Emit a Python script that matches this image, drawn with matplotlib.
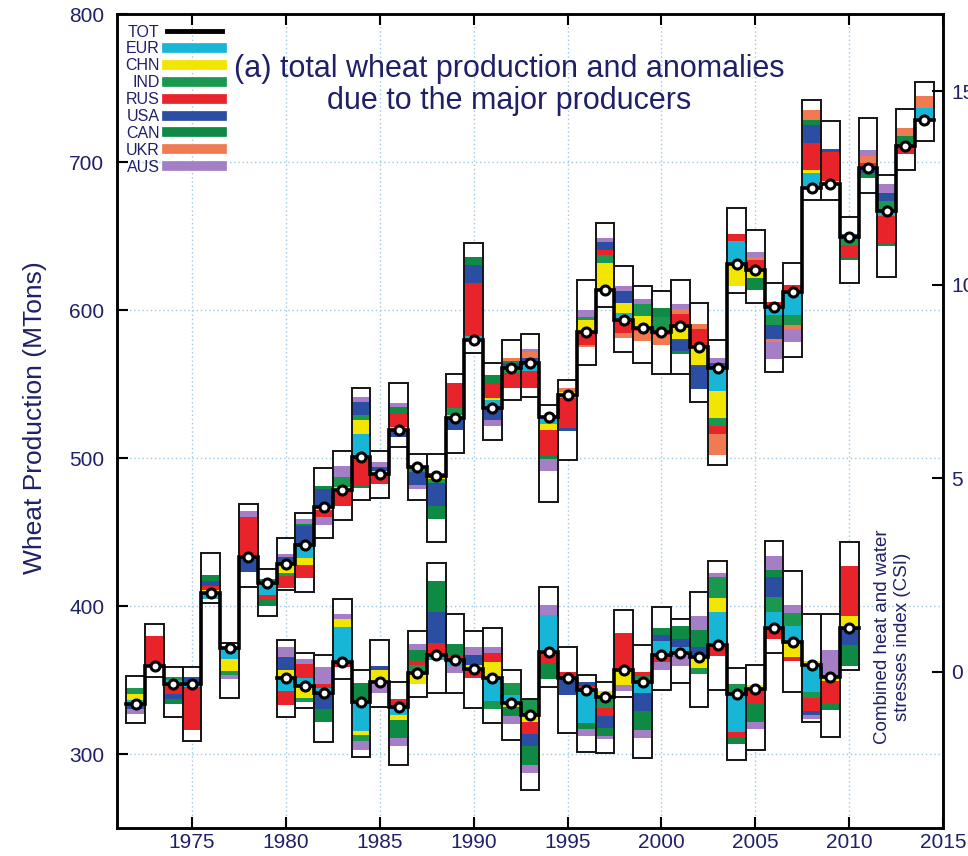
import numpy as np
import matplotlib.pyplot as plt
from matplotlib.lines import Line2D

plt.rcParams['font.family'] = ['Liberation Sans', 'DejaVu Sans']

navy = '#1f2066'

countries = ['EUR', 'CHN', 'IND', 'RUS', 'USA', 'CAN', 'UKR', 'AUS']
colors = ['#17b5d6', '#f2e600', '#1a9850', '#e8232a', '#2b4ea2', '#0e8a45', '#f07b52', '#a47fc6']

# world wheat production (MTons) and country anomalies, 1972-2014
prod_years = np.arange(1972, 2015)
prod_total = [333.8, 359.5, 347.3, 347.3, 408.8, 371.6, 433.1, 415.5, 428.4, 441.2,
              466.9, 478.4, 500.7, 489.2, 518.9, 494.0, 487.9, 527.0, 579.8, 533.8,
              560.8, 564.2, 527.7, 542.6, 585.2, 613.5, 593.3, 587.9, 585.2, 589.3,
              575.0, 560.8, 631.0, 627.0, 602.0, 612.2, 682.5, 685.2, 649.4, 696.0,
              666.9, 710.8, 728.4]
prod_hi = [353, 388, 359, 359, 436, 375, 469, 425, 446, 463,
           493, 505, 547, 505, 551, 503, 503, 557, 645, 564,
           580, 584, 536, 553, 620, 659, 630, 616, 613, 620,
           605, 580, 669, 654, 618, 632, 742, 728, 663, 730,
           691, 736, 754]
prod_lo = [321, 352, 325, 309, 402, 338, 413, 393, 411, 409.5,
           446, 458, 471.6, 473, 507.5, 471.6, 443.3, 503.4, 571, 512,
           539.2, 541.3, 470.3, 498.7, 562.9, 602, 571.7, 564.2, 557, 557,
           538, 495.3, 611.5, 604.8, 558, 568.3, 674.4, 674.4, 618.3, 679,
           622.3, 694.6, 714]
prod_eur = [3, 1, 3, -2, -4, -7.4, 0, -8, 0, -9,
            0, 0, 15.8, 0, 0, 0, 0, 0, 2.3, 5.5,
            0, -5.6, -4.5, -2, 0, 0, 4.5, 0, 0, 0,
            0, -15.5, 15.8, 0, -5.6, -15.8, 10, 0, 0, 0,
            -3.4, 0, 8]
prod_chn = [4, 0, 0, 0, 2, -8, 1.4, 0, -6, -4.5,
            -2, 2, 9, 2.3, 2.3, 0, -2.3, 2.3, 0, 1,
            0, 0, -4.5, 2, 8, 18, 6.8, 8, 0, -9,
            -12.4, -18, -14.6, -5.6, 0, 0, 2.3, 2.3, 0, 0,
            0, 0, 0]
prod_ind = [4, 0, 2, 0, 0, -2.7, 0, 2.7, -2, 0,
            0, 7, 3.4, 0, 0, -3.4, -2.3, 4.5, 0, 0,
            -3.4, 0, 0, 0, 2.3, 5.6, 0, 8, 10, 0,
            0, -5.4, 0, 0, -6.8, -6.8, 0, 0, -5.6, 0,
            6.8, 0, 0]
prod_rus = [-1.5, 19, -7, -29, 2.7, 0, 25.7, -2.7, -8, -9,
            -4.5, -11, -19, -6.8, 9, 0, 2, 17, 36, 10,
            -10, -11.3, -17, -20, -9, 3.4, -9, -2, -2, 8,
            12.4, -6, 4.5, 6.8, 3.4, 4.5, 18, 19, -8, 3.4,
            -18, -5.6, 0]
prod_usa = [-2, 0, -3, 5, 3.4, 0, -10, 0, 5, 13,
            12, 0, 9, 2.3, -4.5, -9, -15.8, -8, 12.4, -8,
            3.5, 3.4, 0, -2.5, 0, 5.6, 8, 0, 0, -8,
            -15.8, 3.4, 0, 0, -9, 0, 12.4, 2, 2, -3.4,
            5.6, 0, 0]
prod_can = [0, 0, -3.5, 0, 4, 0, 0, -4.7, 0, 1.5,
            2, 0, -2.3, 0, 4.5, 0, -9, 0, 5.6, 5.5,
            1, 0, -2.3, 0, 0, 0, 0, 0, 6, -2.3,
            0, 0, 0, -8, 0, 0, 3.4, 0, -2.3, -3.4,
            -2.3, 6.8, 0]
prod_ukr = [0, 0, 0, 0, 0, 0, 0, 0, 0, 0,
            0, 0, 0, 0, 0, 0, 0, 0, 0, 0,
            2.3, 4, 0, 2.5, -1.5, 0, -3.4, -7, -7, 3.4,
            3.4, -14, 0, 2.3, -2.3, -2.3, 6.8, 0, 0, 4.5,
            0, 5.6, 8]
prod_aus = [-3.5, 0, 0, 0, 0, -2.7, 4, 0, 2, 3,
            -5.5, 7, 3.4, 3.4, 2.3, -2.3, 0, 0, 0, -4.5,
            0, 2, -8, 0, 4.5, 2.3, 3.4, 3.4, 0, 3.4,
            0, 3.4, 0, 3.4, -11.3, -9, 0, 0, 0, 4.5,
            5.6, 0, 0]

# combined heat and water stress index (CSI) and country contributions, 1980-2010
csi_years = np.arange(1980, 2011)
csi_total = [-0.16, -0.36, -0.54, 0.26, -0.78, -0.26, -0.91, -0.03, 0.44, 0.31,
             0.08, -0.16, -0.80, -1.11, 0.52, -0.16, -0.47, -0.65, 0.05, -0.26,
             0.44, 0.49, 0.39, 0.70, -0.57, -0.44, 1.14, 0.78, 0.18, -0.13,
             1.14]
csi_hi = [0.83, 0.49, 0.44, 1.87, 0.05, 0.83, -0.26, 1.04, 2.82, 1.48,
          1.04, 1.14, 0.05, -0.70, 2.18, 0.65, -0.08, -0.26, 1.6, 0.7,
          1.66, 1.35, 2.07, 2.85, 0.1, 0.18, 3.37, 2.59, 1.48, 1.48,
          3.34]
csi_lo = [-1.17, -0.93, -1.81, -0.2, -2.2, -0.9, -2.4, -0.65, -0.54, -0.54,
          -0.93, -1.32, -1.76, -3.06, -0.39, -1.58, -2.07, -2.1, -0.65, -2.23,
          -0.47, -0.3, -0.9, -0.47, -2.28, -2.02, 0.49, -0.52, -1.3, -1.7,
          0.05]
csi_eur = [-0.34, 0.2, 0.12, 0.9, -0.75, 0, -0.2, 0, -0.15, -0.15,
           0, -0.6, 0.2, 0, 0.95, 0, -0.85, 0, 0, -0.3,
           0.35, 0.15, 0, 0.85, -1.0, 0, 0.4, 0.4, -0.7, 0,
           0]
csi_chn = [0.21, -0.32, 0, 0.2, -0.1, 0.3, -0.15, -0.3, 0, 0,
           0.1, 0.4, -0.1, -0.2, 0, 0, 0, 0.15, -0.4, 0,
           0, 0, -0.3, 0.35, 0, 0.1, 0, -0.4, 0.1, -0.1,
           0.3]
csi_ind = [0, -0.1, 0, 0, -0.15, 0, 0, 0.2, 0, 0,
           0, -0.2, 0.3, 0.38, 0, 0, 0, -0.3, 0, 0.15,
           0, 0, -0.15, 0.55, 0.25, 0, 0.4, 0.35, -0.15, 0,
           0]
csi_rus = [-0.36, 0.35, 0.1, -0.15, 0, 0, 0.2, 0.1, 0.3, 0.1,
           -0.25, 0.25, 0, -0.3, -0.3, 0.15, 0.1, -0.2, 0.95, 0.1,
           -0.2, 0, 0, -0.3, -0.15, -0.4, -0.3, -0.1, -0.35, -0.6,
           1.3]
csi_usa = [0.34, 0, -0.43, 0, 0, 0.1, 0, 0, 0.8, 0,
           0.25, 0, 0, -0.3, 0, -0.45, 0.1, -0.3, 0, -0.45,
           0.15, 0.2, 0.25, 0, 0, 0, 0.5, 0, -0.1, 0,
           -0.45]
csi_can = [0, 0, -0.34, 0, 0.5, 0, -0.45, 0.3, 0.8, 0.3,
           0, 0, -0.25, -0.5, -0.4, 0, -0.15, -0.2, 0, -0.5,
           0.2, 0.35, 0.45, 0, -0.15, -0.45, 0.2, 0, 0, -0.15,
           -0.55]
csi_ukr = [0] * 31
csi_aus = [0.26, 0.15, 0.45, 0.13, -0.25, -0.3, -0.2, 0.15, 0, -0.2,
           0.2, 0.15, -0.2, -0.2, 0.25, 0, -0.2, -0.1, -0.15, -0.2,
           -0.2, -0.35, 0.35, 0.1, 0, -0.2, 0.35, 0.2, -0.1, 0.7,
           0]

prod_parts = [prod_eur, prod_chn, prod_ind, prod_rus, prod_usa, prod_can, prod_ukr, prod_aus]
csi_parts = [csi_eur, csi_chn, csi_ind, csi_rus, csi_usa, csi_can, csi_ukr, csi_aus]


def draw_series(ax, years, total, hi, lo, parts):
    total = np.asarray(total, float)
    hi = np.asarray(hi, float)
    lo = np.asarray(lo, float)
    # white box spanning the full range of each year
    ax.bar(years, hi - lo, bottom=lo, width=1.0, color='white', linewidth=0, zorder=2)
    # positive anomalies stacked above the total, negative ones below
    up = total.copy()
    down = total.copy()
    for vals, c in zip(parts, colors):
        v = np.asarray(vals, float)
        pos = np.where(v > 0, v, 0)
        neg = np.where(v < 0, v, 0)
        ax.bar(years, pos, bottom=up, width=1.0, color=c, linewidth=0, zorder=3)
        ax.bar(years, neg, bottom=down, width=1.0, color=c, linewidth=0, zorder=3)
        up += pos
        down += neg
    ax.bar(years, hi - lo, bottom=lo, width=1.0, fill=False, edgecolor='#151515',
           linewidth=1.4, zorder=4)
    xs = np.column_stack([years - 0.5, years + 0.5]).ravel()
    ax.plot(xs, np.repeat(total, 2), color='black', lw=2.6, zorder=5,
            solid_joinstyle='miter')
    ax.plot(years, total, 'o', ms=6.5, mfc='white', mec='black', mew=2.2, zorder=6)


fig = plt.figure(figsize=(9.68, 8.56), dpi=100)
ax = fig.add_axes([117 / 968, 1 - 828 / 856, 826 / 968, 814 / 856])
ax.set_xlim(1971, 2015)
ax.set_ylim(250, 800)
ax.set_xticks(range(1975, 2016, 5))
ax.set_yticks(range(300, 801, 100))
ax.grid(True, color='#9cc9e6', linestyle=(0, (1, 2)), linewidth=1.0)
ax.set_axisbelow(True)
ax.tick_params(direction='in', length=8, width=1.5, top=True, labelsize=15,
               labelcolor=navy)
ax.tick_params(axis='y', pad=9)
for s in ax.spines.values():
    s.set_linewidth(1.8)

ax2 = ax.twinx()
ax2.set_ylim(-4.04, 17.0)
ax2.set_yticks([0, 5, 10, 15])
ax2.tick_params(direction='in', length=8, width=1.5, labelsize=15, labelcolor=navy, pad=6)
for s in ax2.spines.values():
    s.set_linewidth(1.8)

draw_series(ax, prod_years, prod_total, prod_hi, prod_lo, prod_parts)
draw_series(ax2, csi_years, csi_total, csi_hi, csi_lo, csi_parts)

handles = [Line2D([], [], color='black', lw=3.5)] + [Line2D([], [], color=c, lw=7) for c in colors]
leg = ax2.legend(handles, ['TOT'] + countries, loc='upper left', bbox_to_anchor=(0.010, 0.987),
                 frameon=False, markerfirst=False, fontsize=11.5, handlelength=3.45,
                 handletextpad=0.45, labelspacing=0.12, borderpad=0, borderaxespad=0,
                 labelcolor=navy)

ax2.text(0.4746, 0.913, '(a) total wheat production and anomalies\ndue to the major producers',
         transform=ax2.transAxes, ha='center', va='center', fontsize=22, linespacing=1.1,
         color=navy, zorder=10)
ax2.text(0.939, 0.235, 'Combined heat and water\nstresses index (CSI)', transform=ax2.transAxes,
         rotation=90, ha='center', va='center', fontsize=13.5, color=navy, zorder=10)
fig.text(35 / 968, 1 - 418 / 856, 'Wheat Production (MTons)', rotation=90,
         ha='center', va='center', fontsize=19, color=navy)

fig.savefig('out.png', dpi=100)
